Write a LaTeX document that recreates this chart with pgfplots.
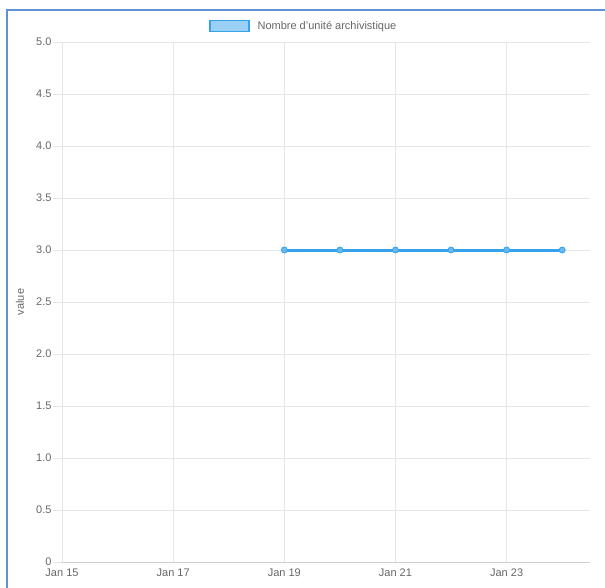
\documentclass[border=0pt]{standalone}
\usepackage{pgfplots}
\pgfplotsset{compat=1.18}
\usepackage{fontspec}
\setmainfont{Liberation Sans}
\definecolor{cjblue}{RGB}{54,162,235}
\definecolor{cjfill}{RGB}{154,208,245}
\definecolor{txt}{RGB}{102,102,102}
\definecolor{gridc}{RGB}{230,230,230}
\definecolor{framec}{RGB}{95,145,215}
\begin{document}
\begin{tikzpicture}[x=1pt,y=1pt]
\path[use as bounding box] (0,0) rectangle (605,587);
\draw[framec, line width=1.2pt] (7,-5) -- (7,577) -- (612,577);
\begin{axis}[
  at={(62pt,25pt)}, anchor=south west,
  scale only axis, width=528pt, height=520pt,
  xmin=0, xmax=9.5, ymin=0, ymax=5,
  xtick={0,2,4,6,8},
  xticklabels={Jan 15,Jan 17,Jan 19,Jan 21,Jan 23},
  ytick={0,0.5,1,1.5,2,2.5,3,3.5,4,4.5,5},
  yticklabels={0,0.5,1.0,1.5,2.0,2.5,3.0,3.5,4.0,4.5,5.0},
  axis lines*=left,
  axis line style={draw=gridc, line width=0.8pt},
  x axis line style={draw=black!18},
  grid=major,
  major grid style={draw=gridc, line width=0.8pt},
  tick align=outside,
  major tick length=9pt,
  xtick style={draw=none},
  ytick style={draw=gridc, line width=0.8pt},
  ticklabel style={font=\fontsize{11}{13}\selectfont, text=txt},
  xticklabel style={yshift=6pt},
  yticklabel style={xshift=2pt},
  ylabel={value},
  ylabel style={at={(rel axis cs:0,0.5)}, anchor=center, rotate=0, yshift=42pt, font=\fontsize{11}{13}\selectfont, text=txt},
  legend style={at={(rel axis cs:0.458,1)}, anchor=center, yshift=16pt, draw=none, fill=none,
    font=\fontsize{11}{13}\selectfont, text=txt, inner sep=0pt},
  legend cell align=left,
]
\addplot[cjblue, line width=3pt, mark=*, mark size=3pt,
  mark options={fill=cjblue!75!white, draw=cjblue, line width=0.8pt},
  legend image code/.code={\draw[cjblue, fill=cjfill, line width=1.6pt] (0pt,-5.5pt) rectangle (39pt,5.5pt); \path (44pt,0pt);}]
  coordinates {(4,3) (5,3) (6,3) (7,3) (8,3) (9,3)};
\addlegendentry{Nombre d'unité archivistique}
\end{axis}
\end{tikzpicture}
\end{document}
